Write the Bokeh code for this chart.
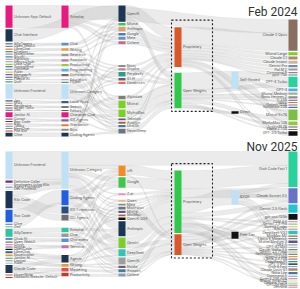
import numpy as np
from collections import defaultdict
from bokeh.plotting import figure
from bokeh.models import Range1d
from bokeh.embed import file_html
from bokeh.resources import INLINE
from bokeh.core.properties import value

MAG = "#e8197f"; NAVY = "#1c3553"; LBLUE = "#bfe0f5"; ORANGE = "#d9582b"
GREEN = "#2fc84b"; BROWN = "#8b6e62"; TEAL = "#27d39a"; LIME = "#7ccf2a"
BLACK = "#111111"; BLUE = "#1f5fe0"; SLATE = "#6673c9"; CYAN = "#1ec6cf"

# ---------------- Feb 2024 ----------------
feb_col1 = [("A1", "Unknown App: Default", MAG), ("A2", "Chat Interface", NAVY),
            ("A3", "SillyTavern", "#5b8fd6"), ("A4", "Open WebUI", "#7f8c8d"),
            ("A5", "LibreChat", "#e59b3c"), ("A6", "Chatbox", "#3a5f8f"),
            ("A7", "Novelcrafter", "#9a9a9a"), ("A8", "RisuAI", "#2a9d8f"),
            ("A9", "Agnaistic", "#c56fb0"), ("A10", "Venus Chub", "#8fb3de"),
            ("A11", "Lobe Chat", "#a4c639"), ("A12", "TypingMind", "#3c4f76"),
            ("A13", "Continue", "#5dade2"), ("A14", "Aider", "#e4b363"),
            ("A15", "HammerAI", "#6d6d6d"), ("A16", "Big-AGI", "#1f5fbf"),
            ("A17", "Fleece AI", "#b07cc6"), ("A18", "Quill", "#49a078"),
            ("A19", "Unknown Frontend", LBLUE), ("A20", "Jan", "#3b5b92"),
            ("A21", "Msty", "#d98c5f"), ("A22", "Perplexica", "#7a7a7a"),
            ("A23", "Writer Tools", "#2f6db5"), ("A24", "Zed", "#5c5c5c"),
            ("A25", "Janitor AI", MAG), ("A26", "Cursor", "#a05195"),
            ("A27", "Roo Code", "#2b4c7e"), ("A28", "Kilo", "#e07b39"),
            ("A29", "Tabby", "#3a9ad9"), ("A30", "NextChat", "#8c8c8c"),
            ("A31", "Poe Bot", "#c0392b"), ("A32", "Cline", NAVY)]
feb_col2 = [("B1", "Roleplay", MAG), ("B2", "Chat", "#5b8fd6"), ("B3", "Writing", "#e59b3c"),
            ("B4", "Research", "#9a9a9a"), ("B5", "Assistants", "#c56fb0"),
            ("B6", "Productivity", "#a4c639"), ("B7", "Programming", "#5dade2"),
            ("B8", "Companions", "#6d6d6d"), ("B9", "Education", "#b07cc6"),
            ("B10", "Fiction", "#49a078"), ("B11", "Unknown Category", LBLUE),
            ("B12", "Local Apps", "#3b5b92"), ("B13", "Search", "#7a7a7a"),
            ("B14", "Editors", "#5c5c5c"), ("B15", "Character Chat", MAG),
            ("B16", "IDE Agents", "#a05195"), ("B17", "Translation", "#e07b39"),
            ("B18", "Bots", "#8c8c8c"), ("B19", "Coding Agents", NAVY)]
feb_col3 = [("C1", "OpenAI", NAVY), ("C2", "Mistral", "#3cc850"), ("C3", "Anthropic", "#d4a373"),
            ("C4", "Google", "#4a7bd0"), ("C5", "Meta", "#6c8ebf"), ("C6", "Cohere", "#c06c84"),
            ("C7", "Nous", "#8e8e8e"), ("C8", "Gryphe", "#b5838d"), ("C9", "Perplexity", "#2a9d8f"),
            ("C10", "01.AI", "#6d597a"), ("C11", "Databricks", "#e76f51"),
            ("C12", "Alpindale", "#7d7d7d"), ("C13", "Mixtral", LIME), ("C14", "MythoMax", LIME),
            ("C15", "Teknium", "#5e548e"), ("C16", "Austism", "#9c6644"),
            ("C17", "Undi95", "#457b9d"), ("C18", "NeverSleep", "#6c757d")]
feb_col4 = [("D1", "Proprietary", ORANGE), ("D2", "Open Weights", GREEN)]
feb_col5 = [("E1", "Self-Hosted", LBLUE), ("E2", "Direct", BLACK)]
feb_col6 = [("F1", "Claude 3 Opus", BROWN), ("F2", "Mistral Large", LIME),
            ("F3", "Claude 2.1", "#b08968"), ("F4", "Claude Instant", "#cdb4a0"),
            ("F5", "Gemini Pro", "#6c8ebf"), ("F6", "PaLM 2", "#9a9a9a"),
            ("F7", "Command R", "#c06c84"), ("F8", "pplx-70b", "#2a9d8f"),
            ("F9", "GPT-4 Turbo", TEAL), ("F10", "GPT-4", "#5aa9e6"),
            ("F11", "Mistral Medium", "#a3b18a"), ("F12", "Nous Hermes 2", "#8e8e8e"),
            ("F13", "Yi 34B", "#6d597a"), ("F14", "DBRX", "#e76f51"),
            ("F15", "Goliath 120B", "#7d7d7d"), ("F16", "Noromaid 20B", "#457b9d"),
            ("F17", "Mixtral 8x7B", "#7ac143"), ("F18", "MythoMax 13B", "#9bc53d"),
            ("F19", "Toppy M 7B", "#5e548e"), ("F20", "Llama 2 70B", "#9c6644"),
            ("F21", "GPT-3.5 Turbo", BLACK)]
feb_flows = [("A1 B1 F1", 11), ("A1 B1 C3 D1 F1", 2), ("A1 B1 C5 D1 F3", 1.5),
             ("A1 B1 C13 D2 E1 F9", 2), ("A1 B1 C6 D1 F17", 1.5),
             ("A2 C1 D1 F1", 5), ("A2 C1 D1 F4", 1.5), ("A2 C1 D2 F9", 2), ("A2 C1 D2 E1 F10", 1.5),
             ("A3 B2 C2 D2 F9", 1.2), ("A4 B2 C3 D1 F5", 1.0), ("A5 B3 C4 D1 F1", 1.2),
             ("A6 B3 C7 D1 F6", 0.8), ("A7 B4 C8 D2 E1 F11", 1.0), ("A8 B4 C5 D1 F7", 1.0),
             ("A9 B5 C9 D1 F8", 0.8), ("A10 B5 C10 D2 F12", 1.0), ("A11 B6 C11 D1 F1", 1.0),
             ("A12 B6 C12 D2 F13", 0.8), ("A13 B7 C13 D2 E1 F17", 1.2), ("A14 B7 C14 D2 F17", 1.0),
             ("A15 B8 C6 D1 F2", 1.0), ("A16 B8 C15 D1 F14", 0.8), ("A17 B9 C16 D2 F15", 0.8),
             ("A18 B10 C17 D1 F16", 1.0),
             ("A19 B11 C13 D2 E1 F9", 3), ("A19 B11 C14 D2 E1 F17", 3), ("A19 B11 C18 D2 F18", 1.5),
             ("A19 B11 C9 D1 F1", 3), ("A19 B11 C1 D1 F2", 1.5),
             ("A20 B12 C10 D2 E2 F21", 1.0), ("A21 B12 C11 D1 F19", 0.8), ("A22 B13 C15 D2 F20", 0.8),
             ("A23 B13 C16 D2 E1 F10", 0.8), ("A24 B14 C17 D1 F3", 0.8),
             ("A25 B15 C14 D2 F17", 2), ("A25 B15 C12 D1 F1", 2),
             ("A26 B16 C18 D2 E2 F21", 1.0), ("A27 B16 C7 D1 F4", 0.8), ("A28 B17 C8 D2 F11", 0.8),
             ("A29 B17 C2 D2 F12", 0.8), ("A30 B18 C3 D1 F5", 0.8), ("A31 B18 C4 D1 F6", 0.8),
             ("A32 B19 C1 D1 F21", 1.5), ("A32 B19 C18 D2 E1 F18", 1.5)]

# ---------------- Nov 2025 ----------------
nov_col1 = [("A1", "Unknown Frontend", LBLUE), ("A2", "Definitive Caller", "#7b2d5b"),
            ("A3", "Employees using Kilo", "#bfe0f5"), ("A4", "Agent Frontend", "#2b4c7e"),
            ("A5", "Dev Frontend", "#bfe0f5"), ("A6", "Kilo Code", NAVY),
            ("A7", "Roo Code", BLUE), ("A8", "Cline", "#3b6fe0"), ("A9", "Zed", "#9a9a9a"),
            ("A10", "SillyTavern", "#2ec4a0"), ("A11", "Chub AI", "#5b8fd6"),
            ("A12", "Open WebUI", "#9a9a9a"), ("A13", "Crush", "#c56fb0"),
            ("A14", "Goose", "#6d6d6d"), ("A15", "OpenCode", BLACK),
            ("A16", "LibreChat", "#3a5f8f"), ("A17", "Novelcrafter", "#e59b3c"),
            ("A18", "Janitor AI", "#2a9d8f"), ("A19", "Liminal", "#8c8c8c"),
            ("A20", "Aider", "#5dade2"), ("A21", "Claude Code", "#1d3a55"),
            ("A22", "HyperWrite", "#d9534f"), ("A23", "HumanAI Website: Default", "#c0392b")]
nov_col2 = [("B1", "Unknown Category", LBLUE), ("B2", "Coding Agents", BLUE),
            ("B3", "IDE Extensions", "#2b4c7e"), ("B4", "CLI Agents", "#6d6d6d"),
            ("B5", "Roleplay", "#2ec4a0"), ("B6", "Chat", "#9a9a9a"),
            ("B7", "Characters", "#5b8fd6"), ("B8", "Terminal", "#c56fb0"),
            ("B9", "Agents", NAVY), ("B10", "Writing", "#e59b3c"),
            ("B11", "Marketing", "#d9534f"), ("B12", "Productivity", "#c0392b")]
nov_col3 = [("C1", "xAI", "#f28c28"), ("C2", "Google", "#3cc850"), ("C3", "Z.ai", "#e38fd0"),
            ("C4", "Qwen", "#f4b183"), ("C5", "Meta", "#7f8c8d"), ("C6", "Moonshot", "#6c757d"),
            ("C7", "Mistral", "#5e548e"), ("C8", "MiniMax", "#9c6644"), ("C9", "OpenAI OSS", BLACK),
            ("C10", "Anthropic", NAVY), ("C11", "Gemini", LIME), ("C12", "DeepSeek", "#2ec4b6"),
            ("C13", "OpenAI", "#9e9e9e"), ("C14", "Nvidia", "#6d597a"),
            ("C15", "Amazon", "#457b9d"), ("C16", "Cohere", "#8d99ae")]
nov_col4 = [("D1", "Proprietary", GREEN), ("D2", "Open Weights", ORANGE)]
nov_col5 = [("E1", "BYOK", LBLUE), ("E2", "Free Tier", BLACK)]
nov_col6 = [("F1", "Grok Code Fast 1", TEAL), ("F2", "Claude Sonnet 4.5", SLATE),
            ("F3", "Gemini 2.5 Flash", CYAN), ("F4", "gpt-oss-120b", BLACK),
            ("F5", "GLM 4.6", "#e38fd0"), ("F6", "Gemini 2.5 Pro", "#8fd14f"),
            ("F7", "Qwen3 Coder", "#f4b183"), ("F8", "Kimi K2", "#6c757d"),
            ("F9", "DeepSeek V3.1", "#2ec4b6"), ("F10", "MiniMax M2", "#9c6644"),
            ("F11", "Llama 4 Maverick", "#7f8c8d"), ("F12", "Mistral Medium 3", "#5e548e"),
            ("F13", "GPT-5", "#9e9e9e"), ("F14", "GPT-4.1 Mini", "#bdbdbd"),
            ("F15", "Claude Haiku 4.5", "#3a5f8f"), ("F16", "Gemini 2.0 Flash", "#a4c639"),
            ("F17", "Nemotron Nano 9B", "#6d597a"), ("F18", "Qwen3 235B", "#e59b3c"),
            ("F19", "Llama 3.3 70B", "#8c8c8c"), ("F20", "DeepSeek R1", "#2a9d8f"),
            ("F21", "GPT-5 Mini", "#111111"), ("F22", "Grok 4 Fast", "#5dade2"),
            ("F23", "Claude Opus 4.1", "#b08968"), ("F24", "Nova Lite", "#457b9d"),
            ("F25", "Command A", "#8d99ae"), ("F26", "Qwen3 30B A3B", "#c56fb0"),
            ("F27", "Mistral Small 3.2", "#9bc53d"), ("F28", "Gemma 3 27B", "#7ac143"),
            ("F29", "GPT-4o Mini", "#6d6d6d"), ("F30", "Devstral", "#d9534f")]
nov_flows = [("A1 B1 F1", 12), ("A1 B1 C1 D1 F1", 3), ("A1 B1 C2 D1 F2", 3),
             ("A1 B1 C10 D1 F1", 3), ("A1 B1 C11 D2 F3", 3),
             ("A2 B1 C3 D1 F5", 1), ("A2 B1 C2 D1 E1 F6", 1), ("A3 B1 C4 D1 F7", 1),
             ("A4 B1 C5 D1 F1", 0.7), ("A5 B1 C6 D2 F8", 0.7),
             ("A6 B1 C10 D1 F1", 4), ("A6 B3 C1 D1 E1 F2", 3), ("A6 B3 C12 D1 F1", 3),
             ("A6 B4 C13 D2 F4", 3), ("A6 B4 C2 D1 F2", 2),
             ("A7 B2 C2 D1 F2", 3), ("A7 B2 C11 D1 E1 F9", 3), ("A7 B2 C12 D1 F3", 2),
             ("A7 B2 C9 D1 E2 F4", 1), ("A7 B2 C1 D1 F3", 2),
             ("A8 B2 C7 D2 F10", 1), ("A9 B2 C8 D1 F11", 1),
             ("A10 B5 C10 D1 E1 F12", 2), ("A10 B5 C11 D1 F1", 2), ("A10 B6 C13 D2 F2", 2),
             ("A10 B6 C14 D1 E2 F13", 1), ("A11 B7 C1 D2 F14", 1), ("A12 B7 C3 D1 F15", 0.8),
             ("A13 B8 C4 D1 E1 F16", 0.8), ("A14 B8 C5 D2 F17", 0.8), ("A15 B8 C9 D1 E2 F4", 1),
             ("A16 B9 C10 D1 F18", 1), ("A17 B9 C11 D1 F19", 1), ("A18 B9 C12 D2 F20", 1),
             ("A19 B10 C13 D2 E2 F21", 1), ("A20 B10 C14 D2 F22", 0.8),
             ("A21 B9 C10 D1 E1 F1", 3), ("A21 B11 C15 D2 E2 F23", 2), ("A21 B12 C16 D1 F24", 2),
             ("A22 B11 C6 D2 F25", 1), ("A23 B12 C7 D1 F26", 1),
             ("A11 B7 C15 D1 F27", 0.6), ("A12 B7 C16 D2 F28", 0.6),
             ("A16 B9 C8 D1 F29", 0.6), ("A17 B10 C6 D1 F30", 0.6)]

COL_X = [5, 61, 118, 174, 231, 288]
COL_W = [7, 7, 7, 7, 7, 9]


def sankey(cols, flows, tops, bottom, pad, iterations=6):
    kcols = [[n[0] for n in c] for c in cols]
    layer, order = {}, {}
    for ci, ks in enumerate(kcols):
        for k in ks:
            layer[k] = ci
            order[k] = len(order)
    agg = {}
    for seq, v in flows:
        ks = seq.split()
        for s, t in zip(ks[:-1], ks[1:]):
            agg[(s, t)] = agg.get((s, t), 0.0) + v
    links = [dict(s=s, t=t, v=v) for (s, t), v in agg.items()]
    src, tgt = defaultdict(list), defaultdict(list)
    for L in links:
        src[L["s"]].append(L)
        tgt[L["t"]].append(L)
    val = {k: max(sum(L["v"] for L in src[k]), sum(L["v"] for L in tgt[k])) for ks in kcols for k in ks}
    ky = min((bottom - tops[ci] - (len(ks) - 1) * pad) / sum(val[k] for k in ks)
             for ci, ks in enumerate(kcols))
    y0, y1 = {}, {}
    for ci, ks in enumerate(kcols):
        y = tops[ci]
        for k in ks:
            y0[k] = y
            y1[k] = y + val[k] * ky
            y = y1[k] + pad
        extra = (bottom - y + pad) / (len(ks) + 1)
        for i, k in enumerate(ks):
            y0[k] += extra * (i + 1)
            y1[k] += extra * (i + 1)
    for L in links:
        L["w"] = L["v"] * ky

    def sort_links(k):
        src[k].sort(key=lambda L: (y0[L["t"]], order[L["t"]]))
        tgt[k].sort(key=lambda L: (y0[L["s"]], order[L["s"]]))

    for k in val:
        sort_links(k)

    def reorder(k):
        for L in tgt[k]:
            sort_links(L["s"])
        for L in src[k]:
            sort_links(L["t"])

    def target_top(s, t):
        y = y0[s] - (len(src[s]) - 1) * pad / 2
        for L in src[s]:
            if L["t"] == t:
                break
            y += L["w"] + pad
        for L in tgt[t]:
            if L["s"] == s:
                break
            y -= L["w"]
        return y

    def source_top(s, t):
        y = y0[t] - (len(tgt[t]) - 1) * pad / 2
        for L in tgt[t]:
            if L["s"] == s:
                break
            y += L["w"] + pad
        for L in src[s]:
            if L["t"] == t:
                break
            y -= L["w"]
        return y

    def shift(k, dy):
        y0[k] += dy
        y1[k] += dy

    def t2b(ks, y, i, a):
        for j in range(i, len(ks)):
            k = ks[j]
            dy = (y - y0[k]) * a
            if dy > 1e-6:
                shift(k, dy)
            y = y1[k] + pad

    def b2t(ks, y, i, a):
        for j in range(i, -1, -1):
            k = ks[j]
            dy = (y1[k] - y) * a
            if dy > 1e-6:
                shift(k, -dy)
            y = y0[k] - pad

    def resolve(ci, a):
        ks = kcols[ci]
        i = len(ks) >> 1
        sub = ks[i]
        b2t(ks, y0[sub] - pad, i - 1, a)
        t2b(ks, y1[sub] + pad, i + 1, a)
        b2t(ks, bottom, len(ks) - 1, a)
        t2b(ks, tops[ci], 0, a)

    for it in range(iterations):
        alpha = 0.99 ** it
        beta = max(1 - alpha, (it + 1) / iterations)
        for ci in range(len(kcols) - 2, -1, -1):
            for k in kcols[ci]:
                ys = ws = 0.0
                for L in src[k]:
                    v = L["v"] * (layer[L["t"]] - layer[k])
                    ys += source_top(k, L["t"]) * v
                    ws += v
                if ws > 0:
                    shift(k, (ys / ws - y0[k]) * alpha)
                    reorder(k)
            resolve(ci, beta)
        for ci in range(1, len(kcols)):
            for k in kcols[ci]:
                ys = ws = 0.0
                for L in tgt[k]:
                    v = L["v"] * (layer[k] - layer[L["s"]])
                    ys += target_top(L["s"], k) * v
                    ws += v
                if ws > 0:
                    shift(k, (ys / ws - y0[k]) * alpha)
                    reorder(k)
            resolve(ci, beta)

    for k in val:
        sort_links(k)
        y = y0[k]
        for L in src[k]:
            L["ys"] = y
            y += L["w"]
        y = y0[k]
        for L in tgt[k]:
            L["yt"] = y
            y += L["w"]
    return layer, y0, y1, links


def bez(a, b, t):
    return (1 - t) ** 3 * a + 3 * (1 - t) ** 2 * t * a + 3 * (1 - t) * t ** 2 * b + t ** 3 * b


def bezx(a, b, t):
    m = (a + b) / 2
    return (1 - t) ** 3 * a + 3 * (1 - t) ** 2 * t * m + 3 * (1 - t) * t ** 2 * m + t ** 3 * b


p = figure(width=300, height=289, output_backend="svg", toolbar_location=None,
           x_range=Range1d(0, 300), y_range=Range1d(289, 0), min_border=0)
p.axis.visible = False
p.grid.visible = False
p.outline_line_color = None
p.background_fill_color = "white"

FONT = value("Inter")
tt = np.linspace(0, 1, 28)

panels = [
    ([feb_col1, feb_col2, feb_col3, feb_col4, feb_col5, feb_col6], feb_flows,
     [5, 5, 5, 5, 5, 19], 136, "Feb 2024", 4),
    ([nov_col1, nov_col2, nov_col3, nov_col4, nov_col5, nov_col6], nov_flows,
     [151, 151, 151, 151, 151, 151], 287, "Nov 2025", 139),
]

for cols, flows, tops, bottom, title, ty in panels:
    layer, y0, y1, links = sankey(cols, flows, tops, bottom, 1.35)
    lx, ly = [], []
    for L in links:
        xs = COL_X[layer[L["s"]]] + COL_W[layer[L["s"]]]
        xt = COL_X[layer[L["t"]]]
        w = L["w"]
        xtop = bezx(xs, xt, tt)
        ytop = bez(L["ys"], L["yt"], tt)
        lx.append(np.concatenate([xtop, xtop[::-1]]))
        ly.append(np.concatenate([ytop, (ytop + w)[::-1]]))
    p.patches(lx, ly, fill_color="#b0b0b0", fill_alpha=0.26, line_color="#8a8a8a",
              line_alpha=0.3, line_width=0.3)

    # dashed box around the 4th column
    d_keys = [n[0] for n in cols[3]]
    bx0 = COL_X[3] - 3
    bx1 = COL_X[3] + 38
    by0 = min(y0[k] for k in d_keys) - 7
    by1 = max(y1[k] for k in d_keys) + 3
    p.quad(left=[bx0], right=[bx1], top=[by0], bottom=[by1], fill_color=None,
           line_color="#222222", line_width=1.1, line_dash="2 2")

    L_, R_, T_, B_, C_ = [], [], [], [], []
    tx, tyy, tl, al = [], [], [], []
    for ci, col in enumerate(cols):
        for key, lab, colr in col:
            L_.append(COL_X[ci]); R_.append(COL_X[ci] + COL_W[ci])
            T_.append(y0[key]); B_.append(y1[key]); C_.append(colr)
            last = ci == len(cols) - 1
            tx.append(COL_X[ci] - 1.5 if last else COL_X[ci] + COL_W[ci] + 1.5)
            tyy.append((y0[key] + y1[key]) / 2)
            tl.append(lab)
            al.append("right" if last else "left")
    p.quad(left=L_, right=R_, top=T_, bottom=B_, fill_color=C_, line_color=None)
    p.text(x=tx, y=tyy, text=tl, text_align=al, text_baseline="middle",
           text_font_size="3.5px", text_color="#555555", text_font=FONT)
    p.text(x=[297], y=[ty], text=[title], text_align="right", text_baseline="top",
           text_font_size="12px", text_color="#333333", text_font=value("Roboto"))

open("out.html", "w").write(file_html(p, INLINE))
